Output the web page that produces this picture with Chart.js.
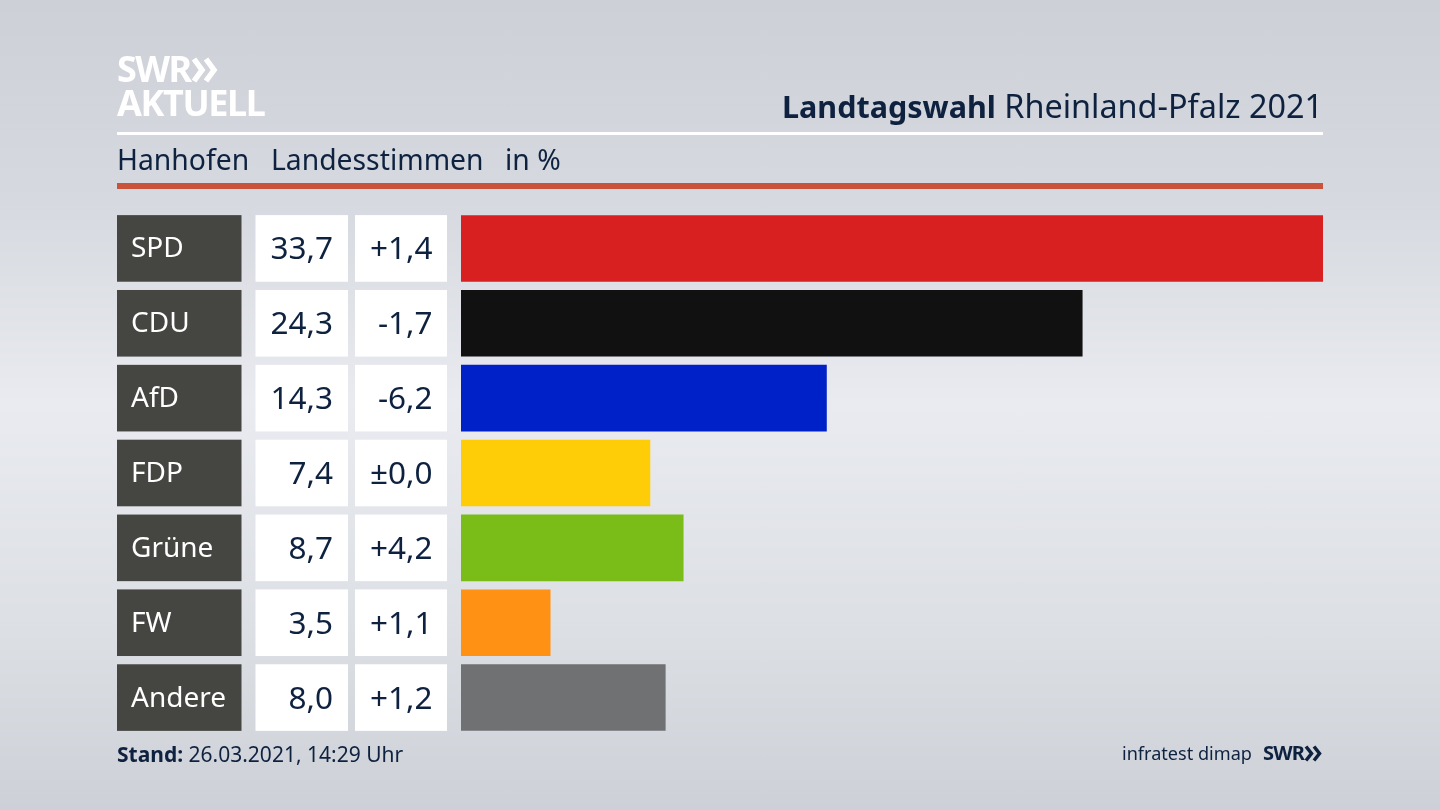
<!DOCTYPE html>
<html lang="de">
<head>
<meta charset="utf-8">
<title>Landtagswahl Rheinland-Pfalz 2021</title>
<script src="https://cdn.jsdelivr.net/npm/chart.js@4"></script>
<style>
  html, body { margin: 0; padding: 0; }
  body {
    width: 1440px; height: 810px; overflow: hidden; position: relative;
    background: linear-gradient(180deg, #cdd0d7 0%, #d6d9df 25%, #e9ebf0 50%, #dcdfe4 78%, #cdd0d6 100%);
    font-family: "Noto Sans", sans-serif; color: #0e2240;
  }
  canvas { position: absolute; left: 0; top: 0; }
  .txt { position: absolute; white-space: nowrap; line-height: 1; }
  .rule { position: absolute; left: 117px; width: 1206px; }
  b { font-weight: 700; }
</style>
</head>
<body>
<canvas id="dataChart" width="1440" height="810"></canvas>

<div class="txt" style="left:117px;top:51px;font-size:36px;font-weight:700;color:#fff;letter-spacing:-1.6px">SWR</div>
<svg style="position:absolute;left:191px;top:57px" width="29" height="26" fill="none" stroke="#fff" stroke-width="5.5">
  <path d="M3 2 L11 13 L3 24 M15 2 L23 13 L15 24"/>
</svg>
<div class="txt" style="left:117px;top:85px;font-size:36px;font-weight:700;color:#fff;letter-spacing:-1.4px">AKTUELL</div>

<div class="txt" style="right:117px;top:89px;font-size:32.4px"><b style="font-size:30.5px">Landtagswahl</b> Rheinland-Pfalz 2021</div>
<div class="rule" style="top:132px;height:3px;background:#fff"></div>

<div class="txt" style="left:117px;top:145px;font-size:28.3px">Hanhofen</div>
<div class="txt" style="left:271px;top:145px;font-size:28.3px">Landesstimmen</div>
<div class="txt" style="left:505px;top:145px;font-size:28.3px">in %</div>
<div class="rule" style="top:183px;height:6px;background:#c9533b"></div>

<div class="txt" style="left:117px;top:744px;font-size:21px"><b>Stand:</b> 26.03.2021, 14:29 Uhr</div>
<div class="txt" style="left:1122px;top:744px;font-size:18.1px">infratest dimap</div>
<div class="txt" style="left:1263px;top:743px;font-size:20px;font-weight:700;letter-spacing:-0.8px">SWR</div>
<svg style="position:absolute;left:1304px;top:745px" width="20" height="17" fill="none" stroke="#0e2240" stroke-width="3.5">
  <path d="M2 1.5 L7.5 8.5 L2 15.5 M10 1.5 L15.5 8.5 L10 15.5"/>
</svg>

<script>
// Daten
const parteien = ['SPD', 'CDU', 'AfD', 'FDP', 'Grüne', 'FW', 'Andere'];
const stimmen = [33.7, 24.3, 14.3, 7.4, 8.7, 3.5, 8.0];
const differenz = ['+1,4', '-1,7', '-6,2', '±0,0', '+4,2', '+1,1', '+1,2'];
const farben = ['#d7201f', '#111111', '#0021c7', '#ffcc08', '#7abd19', '#ff9115', '#707173'];

const textFarbe = '#0e2240';
const zeileH = 66.6;

// Kästen links neben den Balken, an der y-Skala ausgerichtet
const tabellePlugin = {
    id: 'tabelle',
    beforeDraw(chart) {
        const ctx = chart.ctx;
        const y = chart.scales.y;
        ctx.save();
        ctx.textBaseline = 'middle';
        parteien.forEach((p, i) => {
            const mitte = y.getPixelForValue(i);
            const oben = mitte - zeileH / 2;
            ctx.fillStyle = '#454542';
            ctx.fillRect(117, oben, 124.5, zeileH);
            ctx.fillStyle = '#ffffff';
            ctx.fillRect(255.5, oben, 92.5, zeileH);
            ctx.fillRect(355, oben, 92, zeileH);

            ctx.font = '28px "Noto Sans"';
            ctx.textAlign = 'left';
            ctx.fillText(p, 131, mitte + 1);

            ctx.fillStyle = textFarbe;
            ctx.font = '31.5px "Noto Sans"';
            ctx.textAlign = 'right';
            ctx.fillText(stimmen[i].toFixed(1).replace('.', ','), 333, mitte + 2);
            ctx.fillText(differenz[i], 432.5, mitte + 2);
        });
        ctx.restore();
    }
};

new Chart(document.getElementById('dataChart').getContext('2d'), {
    type: 'bar',
    plugins: [tabellePlugin],
    data: {
        labels: parteien,
        datasets: [{
            data: stimmen,
            backgroundColor: farben,
            borderWidth: 0,
            barPercentage: 0.889,
            categoryPercentage: 1
        }]
    },
    options: {
        indexAxis: 'y',
        responsive: false,
        animation: false,
        layout: { padding: { left: 461, right: 117, top: 211, bottom: 75 } },
        plugins: { legend: { display: false }, tooltip: { enabled: false }, title: { display: false } },
        scales: {
            x: { display: false, min: 0, max: 33.7 },
            y: { display: false }
        }
    }
});
</script>
</body>
</html>
